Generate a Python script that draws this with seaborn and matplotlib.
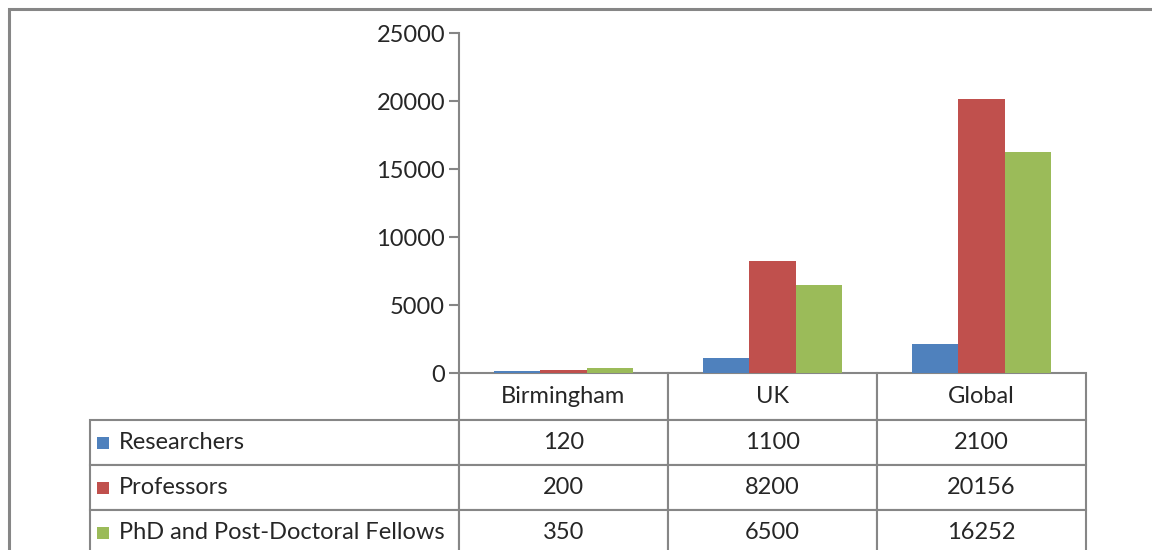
import numpy as np
import pandas as pd
import matplotlib
matplotlib.use('Agg')
import matplotlib.pyplot as plt
import seaborn as sns
from matplotlib.patches import Rectangle

regions = ['Birmingham', 'UK', 'Global']
series = ['Researchers', 'Professors', 'PhD and Post-Doctoral Fellows']
researchers = [120, 1100, 2100]
professors = [200, 8200, 20156]
phd_fellows = [350, 6500, 16252]
colors = ['#4F81BD', '#C0504D', '#9BBB59']

df = pd.DataFrame({
    'region': regions * 3,
    'group': np.repeat(series, 3),
    'count': researchers + professors + phd_fellows,
})

sns.set_style('white')
plt.rcParams['font.family'] = ['Lato', 'DejaVu Sans']
grey = '#868686'
fs = 17

W, H = 1152, 550
fig = plt.figure(figsize=(W / 100, H / 100), dpi=100)
ax = fig.add_axes([459 / W, 1 - 373 / H, 627 / W, 340 / H])

sns.barplot(data=df, x='region', y='count', hue='group', order=regions,
            hue_order=series, palette=colors, width=0.665, saturation=1,
            linewidth=0, legend=False, ax=ax)

ax.set_xlim(-0.5, 2.5)
ax.set_ylim(0, 25000)
ax.set_yticks(range(0, 25001, 5000))
ax.set_xticks([])
ax.set_xlabel('')
ax.set_ylabel('')
for s in ['top', 'right', 'bottom']:
    ax.spines[s].set_visible(False)
ax.spines['left'].set_color(grey)
ax.spines['left'].set_linewidth(1.5)
ax.tick_params(axis='y', left=True, direction='out', length=7, width=1.5,
               color=grey, labelsize=fs, pad=3)

# data table under the plot
rows = [researchers, professors, phd_fellows]
cell_text = [[name] + [str(v) for v in vals] for name, vals in zip(series, rows)]
widths = np.array([369, 209, 209, 209]) / 627
tbl = ax.table(cellText=cell_text, colLabels=[''] + regions, colWidths=list(widths),
               cellLoc='center', bbox=[-369 / 627, -182 / 340, 996 / 627, 182 / 340])
tbl.auto_set_font_size(False)
tbl.set_fontsize(fs)
for (r, c), cell in tbl.get_celld().items():
    cell.set_edgecolor(grey)
    cell.set_linewidth(1.5)
    cell.set_height(47 if r == 0 else 45)
    if r == 0 and c == 0:
        cell.visible_edges = ''
    if c == 0 and r > 0:
        cell.get_text().set_horizontalalignment('left')
        cell.PAD = 29 / 369

# legend keys in the table's row labels
for i, col in enumerate(colors):
    yc = 443 + 45 * i
    fig.add_artist(Rectangle((97 / W, 1 - (yc + 6) / H), 12 / W, 12 / H,
                             transform=fig.transFigure, color=col, lw=0))

# outer chart border
fig.add_artist(Rectangle((9 / W, -0.1), 1.2, 1.1 - 9 / H, transform=fig.transFigure,
                         fill=False, edgecolor=grey, lw=2.2))

fig.savefig('out.png', dpi=100)
